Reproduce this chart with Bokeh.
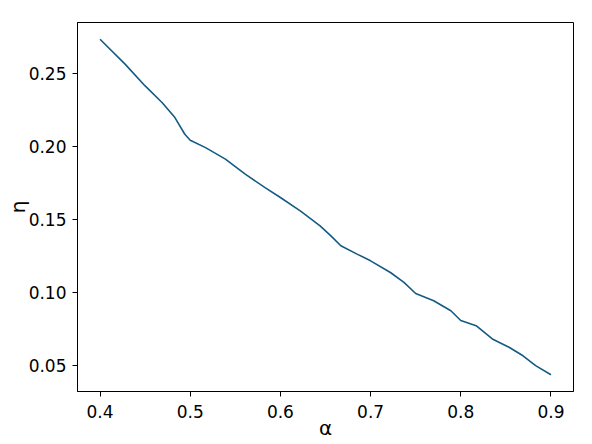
from bokeh.plotting import figure
from bokeh.models import FixedTicker, PrintfTickFormatter, Range1d
from bokeh.embed import file_html
from bokeh.resources import INLINE

alpha = [0.400, 0.428, 0.450, 0.469, 0.483, 0.494, 0.500, 0.517, 0.539, 0.561,
         0.583, 0.600, 0.622, 0.644, 0.656, 0.667, 0.685, 0.700, 0.722, 0.737,
         0.750, 0.770, 0.789, 0.800, 0.817, 0.835, 0.854, 0.869, 0.883, 0.900]
eta = [0.2738, 0.2566, 0.2418, 0.2303, 0.2201, 0.2087, 0.2046, 0.1995, 0.1916, 0.1813,
       0.1721, 0.1653, 0.1562, 0.1459, 0.1390, 0.1322, 0.1265, 0.1219, 0.1139, 0.1071,
       0.0995, 0.0945, 0.0877, 0.0810, 0.0774, 0.0683, 0.0625, 0.0568, 0.0500, 0.0438]
x_ticks = [0.4, 0.5, 0.6, 0.7, 0.8, 0.9]
y_ticks = [0.05, 0.10, 0.15, 0.20, 0.25]

FONT = "DejaVu Sans"

p = figure(width=592, height=444, output_backend="svg", toolbar_location=None,
           x_range=Range1d(0.375, 0.925), y_range=Range1d(0.0323, 0.2853),
           min_border_left=77, min_border_right=19, min_border_top=22, min_border_bottom=53)

p.line(alpha, eta, line_color="#145b84", line_width=1.6)

p.xgrid.visible = False
p.ygrid.visible = False
p.outline_line_color = "black"
p.outline_line_width = 1
p.outline_line_alpha = 1

for ax in (p.xaxis[0], p.yaxis[0]):
    ax.axis_line_color = "black"
    ax.major_tick_line_color = "black"
    ax.major_tick_out = 5
    ax.major_tick_in = 0
    ax.minor_tick_line_color = None
    ax.major_label_text_font = FONT
    ax.major_label_text_font_size = "17px"
    ax.major_label_text_color = "black"
    ax.axis_label_text_font = FONT
    ax.axis_label_text_font_style = "normal"
    ax.axis_label_text_font_size = "20px"
    ax.axis_label_text_color = "black"

p.xaxis[0].major_label_standoff = 8
p.xaxis[0].axis_label_standoff = -5
p.yaxis[0].major_label_standoff = 6
p.yaxis[0].axis_label_standoff = -4

p.xaxis[0].ticker = FixedTicker(ticks=x_ticks)
p.yaxis[0].ticker = FixedTicker(ticks=y_ticks)
p.xaxis[0].formatter = PrintfTickFormatter(format="%.1f")
p.yaxis[0].formatter = PrintfTickFormatter(format="%.2f")
p.xaxis[0].axis_label = "α"
p.yaxis[0].axis_label = "η"

open("out.html", "w").write(file_html(p, INLINE))
